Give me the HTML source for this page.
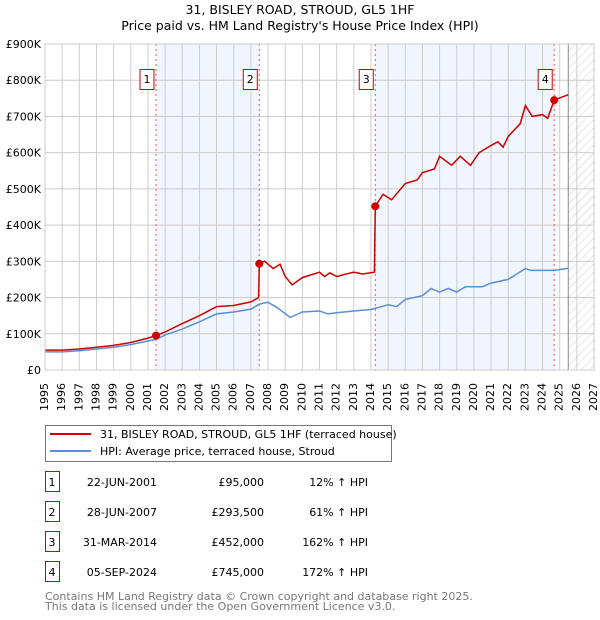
<!DOCTYPE html>
<html><head><meta charset="utf-8"><style>
body{margin:0;background:#fff;font-family:"Liberation Sans","DejaVu Sans",sans-serif;position:relative;width:600px;height:620px;overflow:hidden;}
svg{position:absolute;left:0;top:0;}
svg text{font-family:"DejaVu Sans","Liberation Sans",sans-serif;}
.xl{position:absolute;font-family:"DejaVu Sans","Liberation Sans",sans-serif;font-size:11px;line-height:12px;width:12px;height:36px;white-space:nowrap;writing-mode:vertical-rl;writing-mode:sideways-lr;text-align:left;}
</style></head><body>
<svg id="c" width="600" height="620" xmlns="http://www.w3.org/2000/svg">
<defs><pattern id="hatch" width="6" height="6" patternUnits="userSpaceOnUse" patternTransform="rotate(45)"><line x1="0" y1="0" x2="0" y2="6" stroke="#ccc" stroke-width="1"/></pattern></defs>
<text x="300" y="14" text-anchor="middle" font-size="12.5">31, BISLEY ROAD, STROUD, GL5 1HF</text>
<text x="300" y="30" text-anchor="middle" font-size="12.5">Price paid vs. HM Land Registry's House Price Index (HPI)</text>
<g id="plot"></g>
<g>
<rect x="45.5" y="425.5" width="346" height="36" fill="#fff" stroke="#777"/>
<line x1="50" y1="434" x2="91" y2="434" stroke="#cc0000" stroke-width="2"/>
<text x="100" y="438" font-size="11">31, BISLEY ROAD, STROUD, GL5 1HF (terraced house)</text>
<line x1="50" y1="451" x2="91" y2="451" stroke="#5b8fd4" stroke-width="2"/>
<text x="100" y="455" font-size="11">HPI: Average price, terraced house, Stroud</text>
</g>
<g id="table" font-size="11"></g>
<text x="45" y="600" font-size="11" fill="#777">Contains HM Land Registry data © Crown copyright and database right 2025.</text>
<text x="45" y="610" font-size="11" fill="#777">This data is licensed under the Open Government Licence v3.0.</text>
</svg>
<div id="xlabels"></div>
<script>
const hpiYears=[1995,1996,1997,1998,1999,2000,2001,2001.5,2002,2003,2004,2005,2006,2007,2007.5,2008,2008.5,2009.3,2010,2011,2011.5,2012,2013,2014,2015,2015.5,2016,2017,2017.5,2018,2018.5,2019,2019.5,2020,2020.5,2021,2022,2022.5,2023,2023.3,2024,2024.7,2025.5];
const hpiValues=[50,50,53,58,63,70,80,85,97,113,133,155,160,168,182,187,173,145,160,163,155,158,163,167,180,175,195,205,225,215,225,215,230,230,230,240,250,265,280,275,275,275,281];
const propYears=[1995,1996,1997,1998,1999,2000,2001,2001.47,2002,2003,2004,2005,2006,2007,2007.45,2007.49,2007.8,2008.3,2008.7,2009,2009.4,2010,2011,2011.3,2011.6,2012,2013,2013.5,2014.2,2014.25,2014.7,2015.2,2016,2016.7,2017,2017.7,2018,2018.7,2019.2,2019.8,2020.3,2021,2021.4,2021.7,2022,2022.7,2023,2023.4,2024,2024.3,2024.68,2025.5];
const propValues=[55,55,58,63,68,76,88,95,105,128,150,175,178,188,200,293.5,300,280,292,258,235,255,270,258,268,258,270,265,270,452,485,470,515,525,545,555,590,565,590,565,600,620,630,615,645,680,730,700,705,695,745,760];
const saleLabels=["1","2","3","4"];
const saleYears=[2001.47,2007.49,2014.25,2024.68];
const saleValues=[95,293.5,452,745];
const saleDates=["22-JUN-2001","28-JUN-2007","31-MAR-2014","05-SEP-2024"];
const salePrices=["£95,000","£293,500","£452,000","£745,000"];
const saleHpi=["12% ↑ HPI","61% ↑ HPI","162% ↑ HPI","172% ↑ HPI"];
const yTicks=[0,100,200,300,400,500,600,700,800,900];
const yTickLabels=["£0","£100K","£200K","£300K","£400K","£500K","£600K","£700K","£800K","£900K"];
const xStart=1995,xEnd=2027,dataEnd=2025.5;

const NS="http://www.w3.org/2000/svg";
const X0=45,X1=594,Y0=370,Y1=44;
const xs=y=>X0+(y-xStart)/(xEnd-xStart)*(X1-X0);
const ys=v=>Y0-v/900*(Y0-Y1);
const plot=document.getElementById('plot');
function mk(tag,attrs,parent){const e=document.createElementNS(NS,tag);for(const k in attrs)e.setAttribute(k,attrs[k]);(parent||plot).appendChild(e);return e;}
for(let i=0;i<saleYears.length;i+=2){
  const e=mk('rect',{x:xs(saleYears[i]),y:Y1,width:xs(saleYears[i+1])-xs(saleYears[i]),height:Y0-Y1,fill:'#eef3fc',opacity:0.8});
  
  
}
const h=mk('rect',{x:xs(dataEnd),y:Y1,width:X1-xs(dataEnd),height:Y0-Y1,fill:'url(#hatch)'});


const xl=document.getElementById('xlabels');
for(let yr=xStart;yr<=xEnd;yr++){
  const g=mk('line',{x1:xs(yr),x2:xs(yr),y1:Y1,y2:Y0,stroke:'#ccc','stroke-width':1});
  
  
  const d=document.createElement('div');
  d.className='xl';
  d.textContent=yr;
  d.style.left=(xs(yr)-6).toFixed(1)+'px';
  d.style.top='375px';
  
  
  xl.appendChild(d);
}
yTicks.forEach((v,i)=>{
  const g=mk('line',{x1:X0,x2:X1,y1:ys(v),y2:ys(v),stroke:'#ccc','stroke-width':1});
  
  
  const t=mk('text',{x:41,y:ys(v)+4,'text-anchor':'end','font-size':11});
  t.textContent=yTickLabels[i];
  
  
});
const vl=mk('line',{x1:xs(dataEnd),x2:xs(dataEnd),y1:Y1,y2:Y0,stroke:'#888','stroke-width':1});


saleYears.forEach((yr,i)=>{
  const l=mk('line',{x1:xs(yr),x2:xs(yr),y1:Y1,y2:Y0,stroke:'#e55','stroke-width':1,'stroke-dasharray':'2,3'});
  
  
  const b=mk('rect',{x:xs(yr)-16,y:69.5,width:14,height:20,fill:'#fff',stroke:'#c00'});
  
  
  const t=mk('text',{x:xs(yr)-9,y:83,'text-anchor':'middle','font-size':11});
  t.textContent=saleLabels[i];
  
  
});
function line(xa,va,color,name){
  const d=xa.map((x,i)=>(i?'L':'M')+xs(x).toFixed(1)+','+ys(va[i]).toFixed(1)).join('');
  const p=mk('path',{d:d,fill:'none',stroke:color,'stroke-width':1.5});
  
  
}
line(hpiYears,hpiValues,'#5b8fd4','hpi-line');
line(propYears,propValues,'#cc0000','property-line');
saleYears.forEach((yr,i)=>{
  const c=mk('circle',{cx:xs(yr),cy:ys(saleValues[i]),r:4,fill:'#cc0000'});
  
  
});
const frame=mk('rect',{x:X0,y:Y1,width:X1-X0,height:Y0-Y1,fill:'none',stroke:'#ccc'});


const tb=document.getElementById('table');
saleLabels.forEach((s,i)=>{
  const y=483+i*30;
  const b=mk('rect',{x:45.5,y:y-11.5,width:14,height:20,fill:'#fff',stroke:'#c00'},tb);
  
  
  const vals=[[52,s,'middle'],[157,saleDates[i],'end'],[264,salePrices[i],'end'],[368,saleHpi[i],'end']];
  vals.forEach(v=>{
    const t=mk('text',{x:v[0],y:y+3,'text-anchor':v[2]},tb);
    t.textContent=v[1];
    
    
  });
});
</script>
</body></html>
